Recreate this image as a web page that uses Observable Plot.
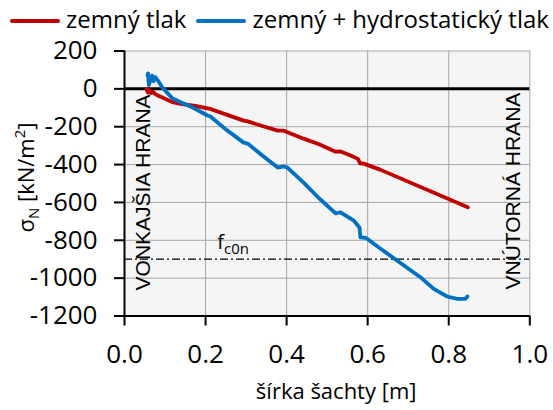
<!DOCTYPE html>
<html>
<head>
<meta charset="utf-8">
<script src="https://cdn.jsdelivr.net/npm/d3@7"></script>
<script src="https://cdn.jsdelivr.net/npm/@observablehq/plot@0.6"></script>
<style>
  html, body { margin: 0; padding: 0; background: #fff; }
  body { width: 553px; height: 410px; overflow: hidden; font-family: "Open Sans", sans-serif; }
  #legend { height: 36px; display: flex; align-items: center; font-size: 24px; color: #000; padding-left: 10px; white-space: nowrap; }
  .sw { display: inline-block; width: 50px; height: 4px; border-radius: 2px; margin-right: 6px; position: relative; top: 3px; }
  #chart svg { display: block; }
</style>
</head>
<body>
<div id="legend"></div>
<div id="chart"></div>
<script>
// ---- data ----
const seriesNames = ["zemný tlak", "zemný + hydrostatický tlak"];
const seriesColors = ["#c00000", "#0070c0"];

const redX = [0.054, 0.058, 0.062, 0.066, 0.070, 0.076, 0.084, 0.100, 0.118, 0.138, 0.175, 0.205, 0.212, 0.250, 0.294, 0.304, 0.340, 0.378, 0.393, 0.442, 0.480, 0.521, 0.533, 0.558, 0.576, 0.581, 0.590, 0.632, 0.847];
const redY = [-2, -20, -8, -22, -15, -28, -37, -52, -70, -79, -90, -103, -106, -135, -168, -172, -196, -221, -221, -263, -293, -332, -331, -352, -370, -393, -395, -428, -626];

const blueX = [0.057, 0.058, 0.060, 0.064, 0.068, 0.072, 0.076, 0.082, 0.093, 0.106, 0.118, 0.140, 0.167, 0.205, 0.212, 0.250, 0.294, 0.304, 0.340, 0.378, 0.393, 0.402, 0.442, 0.480, 0.521, 0.533, 0.566, 0.580, 0.582, 0.595, 0.632, 0.730, 0.763, 0.796, 0.821, 0.841, 0.846];
const blueY = [70, 82, 20, 45, 70, 40, 62, 45, 8, -22, -50, -72, -97, -141, -146, -214, -284, -289, -352, -416, -410, -416, -495, -578, -658, -652, -696, -734, -784, -787, -845, -995, -1057, -1097, -1109, -1109, -1097];

const xTicks = [0, 0.2, 0.4, 0.6, 0.8, 1.0];
const yTicks = [200, 0, -200, -400, -600, -800, -1000, -1200];
const fc0nValue = -900;

const xTitle = "šírka šachty [m]";
const yTitle = "σN [kN/m2]";
const edgeLabels = [
  {x: 0.047, y: -1065, label: "VONKAJŠIA HRANA"},
  {x: 0.960, y: -1060, label: "VNÚTORNÁ HRANA"}
];
const fLabel = [{x: 0.229, y: -844, label: "fc0n"}];

// ---- legend ----
const legend = d3.select("#legend");
seriesNames.forEach((name, i) => {
  legend.append("span").attr("class", "sw")
    .style("background", seriesColors[i])
    .style("margin-left", i ? "10px" : "0px");
  legend.append("span").text(name);
});

// ---- chart ----
const red = redX.map((x, i) => ({x, y: redY[i]}));
const blue = blueX.map((x, i) => ({x, y: blueY[i]}));
const font = '"Open Sans", sans-serif';

const chart = Plot.plot({
  width: 553,
  height: 374,
  marginTop: 14.5,
  marginBottom: 94.5,
  marginLeft: 124,
  marginRight: 23.7,
  x: {domain: [0, 1], axis: null},
  y: {domain: [-1200, 200], axis: null},
  style: {fontFamily: font, color: "#000", background: "transparent", overflow: "visible"},
  marks: [
    Plot.frame({fill: "#f5f5f5", stroke: null}),
    Plot.ruleX(xTicks.slice(1), {stroke: "#a6a6a6", strokeWidth: 1}),
    Plot.ruleY(yTicks.filter(d => d !== 0 && d !== -1200), {stroke: "#a6a6a6", strokeWidth: 1}),
    Plot.ruleY([fc0nValue], {stroke: "#000", strokeWidth: 1.2, strokeDasharray: "8 3 2 3"}),
    Plot.ruleY([0], {stroke: "#000", strokeWidth: 3}),
    Plot.line(red, {x: "x", y: "y", stroke: seriesColors[0], strokeWidth: 3.8, strokeLinejoin: "round", strokeLinecap: "round"}),
    Plot.line(blue, {x: "x", y: "y", stroke: seriesColors[1], strokeWidth: 3.8, strokeLinejoin: "round", strokeLinecap: "round"}),
    Plot.text(edgeLabels, {x: "x", y: "y", text: "label", rotate: -90, textAnchor: "start", lineAnchor: "middle", fontSize: 21, fontFamily: "Liberation Sans", fill: "#000"}),
    Plot.text(fLabel, {x: "x", y: "y", text: "label", textAnchor: "start", lineAnchor: "bottom", fontSize: 20, fill: "#000"}),
    Plot.axisX(xTicks, {tickSize: 10, fill: "none", stroke: "#000", strokeWidth: 2}),
    Plot.axisX(xTicks, {tickSize: 10, stroke: "none", tickPadding: 19, fontSize: 26, tickFormat: d3.format(".1f"), label: null, fill: "#000"}),
    Plot.axisY(yTicks, {tickSize: 10, fill: "none", stroke: "#000", strokeWidth: 2}),
    Plot.axisY(yTicks, {tickSize: 10, stroke: "none", tickPadding: 17, fontSize: 26, tickFormat: d => String(d), label: null, fill: "#000"}),
    Plot.ruleX([0], {stroke: "#000", strokeWidth: 2}),
    Plot.ruleY([-1200], {stroke: "#000", strokeWidth: 2}),
    Plot.text([xTitle], {text: d => d, frameAnchor: "bottom", dy: 83, dx: 9, lineAnchor: "bottom", fontSize: 22, fill: "#000"}),
    Plot.text([yTitle], {text: d => d, frameAnchor: "left", rotate: -90, dx: -91, dy: -6, lineAnchor: "bottom", textAnchor: "middle", fontSize: 22, fill: "#000"})
  ]
});
document.getElementById("chart").appendChild(chart);

// ---- subscripts / superscripts ----
d3.select(chart).selectAll("text").each(function () {
  const t = this.textContent;
  const sel = d3.select(this);
  if (t === yTitle) {
    sel.text(null);
    sel.append("tspan").text("σ");
    sel.append("tspan").attr("font-size", 15).attr("dy", 5).text("N");
    sel.append("tspan").attr("dy", -5).text(" [kN/m");
    sel.append("tspan").attr("font-size", 15).attr("dy", -9).text("2");
    sel.append("tspan").attr("dy", 9).text("]");
  } else if (t === "fc0n") {
    sel.text(null);
    sel.append("tspan").text("f");
    sel.append("tspan").attr("font-size", 15).attr("dy", 5).text("c0n");
  }
});
</script>
</body>
</html>
